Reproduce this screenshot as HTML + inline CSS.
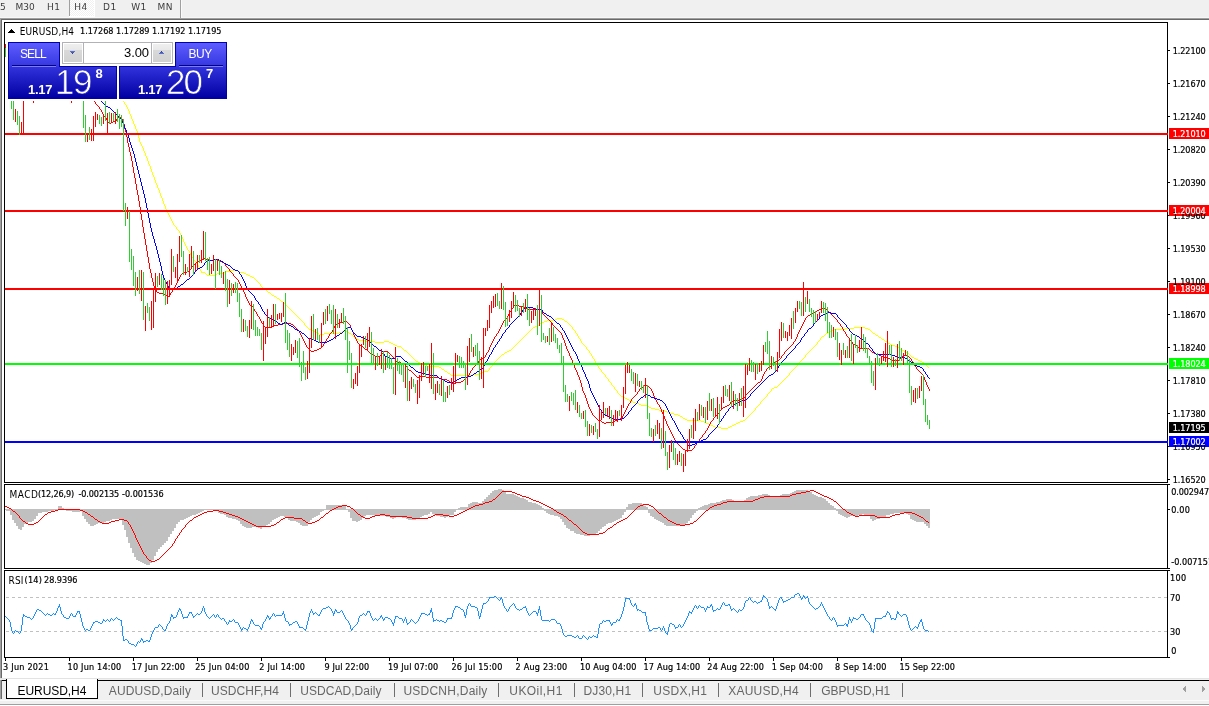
<!DOCTYPE html>
<html lang="en"><head><meta charset="utf-8"><title>EURUSD,H4</title>
<style>
*{box-sizing:border-box}
html,body{margin:0;padding:0}
body{width:1209px;height:706px;overflow:hidden;background:#fff;position:relative;font-family:"Liberation Sans",sans-serif;font-size:10px;color:#000}
.abs{position:absolute}
.d9,.d10,.l12,.l10{position:absolute;white-space:pre}
.d9{-webkit-text-stroke:0.2px currentColor}
.l10{font-family:"DejaVu Sans","Liberation Sans",sans-serif;font-size:9px}
.d9{font-family:"DejaVu Sans","Liberation Sans",sans-serif;font-stretch:condensed;font-size:9px}
.d10{font-family:"DejaVu Sans","Liberation Sans",sans-serif;font-stretch:condensed;font-size:10px}
.l12{font-family:"Liberation Sans",sans-serif;font-size:12px}
.box{position:absolute;left:4px;width:1164px;border:1px solid #000}
.hl{position:absolute;left:5px;width:1163px;height:2px}
.pl{position:absolute;left:1169px;width:40px;height:11px}
.tk{position:absolute;left:1168px;width:2px;height:1px;background:#000}
.xt{position:absolute;top:658px;width:1px;height:3px;background:#000}
.sep{position:absolute;top:683px;width:1px;height:14px;background:#6e6e6e}
.pb{background:linear-gradient(#3232dc,#0000a2);border:1px solid #0000ac}
.sb{background:linear-gradient(#5c5cff,#3636e0);border:1px solid #0000ac;border-bottom:0}
.vb{background:linear-gradient(#efefef 0,#e8e8e8 33%,#d9d9d9 34%,#d1d1d1)}
svg{position:absolute;left:0;top:0}
</style></head>
<body>
<div class="abs" style="left:0;top:0;width:1209px;height:18px;background:#f0f0f0"></div>
<div class="abs" style="left:0;top:17px;width:1209px;height:1px;background:#f7f7f7"></div>
<div class="abs" style="left:0;top:18px;width:1209px;height:1px;background:#a0a0a0"></div>
<div class="abs" style="left:0;top:19px;width:1209px;height:1px;background:#696969"></div>
<div class="abs" style="left:0;top:18px;width:1px;height:662px;background:#a0a0a0"></div>
<div class="abs" style="left:1px;top:19px;width:1px;height:661px;background:#696969"></div>
<div class="abs" style="left:70px;top:0;width:24px;height:16px;background:#f0f0f0 repeating-conic-gradient(#fff 0 25%,#f0f0f0 0 50%) 0 0/2px 2px"></div>
<div class="abs" style="left:94px;top:0;width:1px;height:17px;background:#fff"></div>
<div class="abs" style="left:69px;top:16px;width:26px;height:1px;background:#fff"></div>
<div class="abs" style="left:69px;top:0;width:1px;height:16px;background:#a0a0a0"></div>
<div class="abs" style="left:180px;top:0;width:1px;height:18px;background:#a0a0a0"></div>
<div class="abs" style="left:181px;top:0;width:1px;height:18px;background:#fafafa"></div>
<div class="l10" style="left:-13.4px;top:2px;color:#3c3c3c">M15</div>
<div class="box" style="top:22px;height:461px"></div>
<div class="box" style="top:484px;height:85px"></div>
<div class="box" style="top:570px;height:88px"></div>
<div class="tk" style="top:484px"></div><div class="tk" style="top:568px"></div><div class="tk" style="top:570px"></div><div class="tk" style="top:657px"></div>
<svg width="1209" height="706" viewBox="0 0 1209 706" shape-rendering="crispEdges">
<path d="M124.5,102v2M126.5,105v2M127.5,107v2M128.5,109v2M129.5,111v3M130.5,114v2M131.5,116v3M132.5,119v2M133.5,121v3M134.5,124v2M135.5,126v3M136.5,129v2M137.5,131v3M138.5,134v4M139.5,138v4M140.5,142v2M141.5,144v2M142.5,146v2M143.5,148v3M144.5,151v2M145.5,153v3M146.5,156v2M147.5,158v3M148.5,161v3M149.5,164v2M150.5,166v3M151.5,169v3M152.5,172v3M153.5,175v2M154.5,177v3M155.5,180v3M156.5,183v2M157.5,185v3M158.5,188v2M159.5,190v3M160.5,193v3M161.5,196v2M162.5,198v3M163.5,201v3M164.5,204v2M165.5,206v3M166.5,209v2M167.5,211v2M168.5,213v2M169.5,215v2M170.5,217v2M171.5,219v2M172.5,221v2M173.5,223v2M176.5,227v2M179.5,231v2M180.5,233v2M181.5,235v2M182.5,237v2M183.5,239v3M184.5,242v2M185.5,244v2M186.5,246v2M187.5,248v2M189.5,251v2M190.5,253v2M191.5,255v2M193.5,258v2M196.5,262v2M198.5,265v2M199.5,267v2M200.5,269v2M201.5,271v2M260.5,284v2M304.5,323v2M489.5,368v2M492.5,364v2M572.5,327v2M575.5,331v2M577.5,334v2M578.5,336v2M580.5,339v2M581.5,341v2M586.5,347v2M589.5,351v2M591.5,354v2M592.5,356v2M594.5,359v2M595.5,361v2M597.5,364v2M598.5,366v2M601.5,370v2M605.5,375v2M608.5,379v2M611.5,383v2M614.5,387v2M617.5,391v2M755.5,408v2M760.5,402v2M767.5,394v2M771.5,389v2M789.5,373v2M799.5,362v2M805.5,355v2M817.5,342v2M820.5,338v2M123,101.5h1M125,104.5h1M174,225.5h1M175,226.5h1M177,229.5h1M178,230.5h1M188,250.5h1M192,257.5h1M194,260.5h1M195,261.5h1M197,264.5h1M230,270.5h8M226,271.5h4M238,271.5h2M202,272.5h3M223,272.5h3M240,272.5h4M205,273.5h1M217,273.5h6M244,273.5h2M206,274.5h1M215,274.5h2M246,274.5h2M207,275.5h8M248,275.5h2M250,276.5h2M252,277.5h2M254,278.5h1M255,279.5h1M256,280.5h1M257,281.5h1M258,282.5h1M259,283.5h1M261,286.5h1M262,287.5h1M263,288.5h1M264,289.5h2M266,290.5h1M267,291.5h1M268,292.5h2M270,293.5h1M271,294.5h1M272,295.5h2M274,296.5h2M276,297.5h1M277,298.5h2M279,299.5h1M280,300.5h1M281,301.5h2M283,302.5h1M284,303.5h1M285,304.5h1M286,305.5h1M287,306.5h1M288,307.5h1M289,308.5h1M290,309.5h1M291,310.5h1M292,311.5h1M293,312.5h1M294,313.5h1M295,314.5h1M296,315.5h1M297,316.5h1M298,317.5h1M299,318.5h1M557,318.5h5M300,319.5h1M555,319.5h2M562,319.5h2M301,320.5h1M547,320.5h8M564,320.5h1M302,321.5h1M544,321.5h3M565,321.5h2M303,322.5h1M542,322.5h2M567,322.5h1M540,323.5h2M568,323.5h1M539,324.5h1M569,324.5h1M305,325.5h1M537,325.5h2M570,325.5h1M306,326.5h1M535,326.5h2M571,326.5h1M307,327.5h1M533,327.5h2M854,327.5h11M308,328.5h1M532,328.5h1M845,328.5h9M865,328.5h3M309,329.5h2M531,329.5h1M573,329.5h1M834,329.5h11M868,329.5h2M311,330.5h2M530,330.5h1M574,330.5h1M832,330.5h2M870,330.5h1M313,331.5h2M342,331.5h5M529,331.5h1M830,331.5h2M871,331.5h1M315,332.5h2M339,332.5h3M347,332.5h2M528,332.5h1M828,332.5h2M872,332.5h1M317,333.5h2M324,333.5h15M349,333.5h2M527,333.5h1M576,333.5h1M826,333.5h2M873,333.5h2M319,334.5h5M351,334.5h1M526,334.5h1M825,334.5h1M875,334.5h1M352,335.5h1M525,335.5h1M824,335.5h1M876,335.5h2M353,336.5h1M524,336.5h1M822,336.5h2M878,336.5h1M354,337.5h2M523,337.5h1M821,337.5h1M879,337.5h2M356,338.5h1M522,338.5h1M579,338.5h1M881,338.5h1M357,339.5h2M521,339.5h1M882,339.5h2M359,340.5h6M520,340.5h1M819,340.5h1M884,340.5h1M365,341.5h10M384,341.5h5M519,341.5h1M818,341.5h1M885,341.5h2M375,342.5h9M389,342.5h2M518,342.5h1M887,342.5h1M391,343.5h2M517,343.5h1M582,343.5h1M888,343.5h2M393,344.5h2M516,344.5h1M583,344.5h1M816,344.5h1M890,344.5h2M395,345.5h2M515,345.5h1M584,345.5h1M815,345.5h1M892,345.5h3M397,346.5h4M514,346.5h1M585,346.5h1M814,346.5h1M895,346.5h2M401,347.5h1M513,347.5h1M813,347.5h1M897,347.5h2M402,348.5h1M512,348.5h1M812,348.5h1M899,348.5h1M403,349.5h1M511,349.5h1M587,349.5h1M811,349.5h1M900,349.5h2M404,350.5h2M509,350.5h2M588,350.5h1M810,350.5h1M902,350.5h2M406,351.5h1M507,351.5h2M809,351.5h1M904,351.5h2M407,352.5h1M505,352.5h2M808,352.5h1M906,352.5h2M408,353.5h1M504,353.5h1M590,353.5h1M807,353.5h1M908,353.5h1M409,354.5h1M502,354.5h2M806,354.5h1M909,354.5h1M410,355.5h1M501,355.5h1M910,355.5h1M411,356.5h1M500,356.5h1M911,356.5h1M412,357.5h1M499,357.5h1M804,357.5h1M912,357.5h2M413,358.5h1M498,358.5h1M593,358.5h1M803,358.5h1M914,358.5h2M414,359.5h1M497,359.5h1M802,359.5h1M916,359.5h2M415,360.5h1M496,360.5h1M801,360.5h1M918,360.5h2M416,361.5h2M495,361.5h1M800,361.5h1M920,361.5h2M418,362.5h2M494,362.5h1M922,362.5h2M420,363.5h3M493,363.5h1M596,363.5h1M924,363.5h1M423,364.5h2M798,364.5h1M925,364.5h1M425,365.5h2M797,365.5h1M926,365.5h1M427,366.5h12M491,366.5h1M796,366.5h1M927,366.5h1M439,367.5h2M490,367.5h1M795,367.5h1M928,367.5h1M441,368.5h1M599,368.5h1M794,368.5h1M442,369.5h2M600,369.5h1M793,369.5h1M444,370.5h1M488,370.5h1M792,370.5h1M445,371.5h2M484,371.5h4M791,371.5h1M447,372.5h1M482,372.5h2M602,372.5h1M790,372.5h1M448,373.5h2M480,373.5h2M603,373.5h1M450,374.5h1M472,374.5h8M604,374.5h1M451,375.5h21M788,375.5h1M787,376.5h1M606,377.5h1M786,377.5h1M607,378.5h1M785,378.5h1M784,379.5h1M783,380.5h1M609,381.5h1M782,381.5h1M610,382.5h1M781,382.5h1M780,383.5h1M779,384.5h1M612,385.5h1M778,385.5h1M613,386.5h1M777,386.5h1M774,387.5h3M772,388.5h2M615,389.5h1M616,390.5h1M770,391.5h1M769,392.5h1M618,393.5h1M768,393.5h1M619,394.5h1M620,395.5h1M621,396.5h2M766,396.5h1M623,397.5h2M765,397.5h1M625,398.5h2M764,398.5h1M627,399.5h2M763,399.5h1M629,400.5h2M762,400.5h1M631,401.5h2M761,401.5h1M633,402.5h3M636,403.5h3M639,404.5h2M759,404.5h1M641,405.5h6M758,405.5h1M647,406.5h2M757,406.5h1M649,407.5h2M756,407.5h1M651,408.5h4M655,409.5h4M659,410.5h6M754,410.5h1M665,411.5h2M753,411.5h1M667,412.5h3M752,412.5h1M670,413.5h4M751,413.5h1M674,414.5h4M750,414.5h1M678,415.5h2M749,415.5h1M680,416.5h2M748,416.5h1M682,417.5h1M747,417.5h1M683,418.5h2M746,418.5h1M685,419.5h2M745,419.5h1M687,420.5h14M743,420.5h2M701,421.5h3M740,421.5h3M704,422.5h2M738,422.5h2M706,423.5h3M736,423.5h2M709,424.5h2M734,424.5h2M711,425.5h2M732,425.5h2M713,426.5h2M730,426.5h2M715,427.5h6M728,427.5h2M721,428.5h7" fill="none" stroke="#ffff00" stroke-width="1"/>
<path d="M95.5,102v2M99.5,107v2M101.5,110v2M102.5,112v2M103.5,114v2M105.5,116v2M106.5,118v2M107.5,120v2M116.5,119v2M117.5,117v2M122.5,119v2M123.5,121v3M124.5,124v5M125.5,129v3M126.5,132v5M127.5,137v6M128.5,143v4M129.5,147v5M130.5,152v4M131.5,156v5M132.5,161v6M133.5,167v6M134.5,173v5M135.5,178v6M136.5,184v6M137.5,190v5M138.5,195v6M139.5,201v6M140.5,207v7M141.5,214v6M142.5,220v7M143.5,227v6M144.5,233v6M145.5,239v6M146.5,245v6M147.5,251v6M148.5,257v6M149.5,263v6M150.5,269v4M151.5,273v5M152.5,278v4M153.5,282v4M154.5,286v3M156.5,290v2M170.5,293v2M172.5,290v2M173.5,288v2M175.5,285v2M176.5,283v2M177.5,281v2M178.5,279v2M179.5,277v2M180.5,275v2M191.5,267v2M225.5,264v2M229.5,269v2M233.5,274v2M238.5,280v2M239.5,282v2M240.5,284v2M241.5,286v2M242.5,288v2M243.5,290v2M244.5,292v2M245.5,294v3M246.5,297v2M247.5,299v2M248.5,301v2M249.5,303v2M253.5,307v2M254.5,309v2M256.5,312v2M257.5,314v2M259.5,317v2M260.5,319v2M261.5,321v2M263.5,324v2M299.5,331v2M300.5,333v2M301.5,335v2M302.5,337v2M303.5,339v2M304.5,341v2M305.5,343v2M306.5,345v2M323.5,344v2M325.5,341v2M326.5,339v2M328.5,336v2M329.5,334v2M332.5,330v2M333.5,328v2M334.5,326v2M335.5,324v2M350.5,325v3M351.5,328v2M352.5,330v2M353.5,332v3M354.5,335v2M355.5,337v2M356.5,339v2M357.5,341v2M395.5,359v2M407.5,367v2M469.5,373v2M470.5,371v2M472.5,368v2M478.5,361v2M485.5,355v2M486.5,353v2M488.5,350v2M489.5,347v3M490.5,345v2M491.5,343v2M492.5,341v2M493.5,339v2M494.5,337v2M496.5,334v2M498.5,331v2M499.5,329v2M500.5,327v2M501.5,325v2M502.5,323v2M503.5,321v2M507.5,316v2M508.5,314v2M509.5,312v2M511.5,309v2M513.5,306v2M541.5,310v2M542.5,312v2M552.5,323v2M561.5,333v2M562.5,335v3M563.5,338v2M564.5,340v3M565.5,343v3M566.5,346v3M567.5,349v2M568.5,351v2M569.5,353v3M570.5,356v2M571.5,358v2M572.5,360v3M573.5,363v2M574.5,365v3M575.5,368v2M576.5,370v2M577.5,372v3M578.5,375v2M579.5,377v3M580.5,380v3M581.5,383v4M582.5,387v4M583.5,391v2M584.5,393v2M585.5,395v3M586.5,398v3M587.5,401v3M588.5,404v3M589.5,407v2M590.5,409v2M591.5,411v2M592.5,413v2M622.5,416v2M623.5,414v2M624.5,412v2M625.5,410v2M626.5,408v2M627.5,406v2M628.5,404v2M630.5,401v2M631.5,399v2M637.5,392v2M639.5,389v2M651.5,389v2M652.5,391v2M653.5,393v3M654.5,396v2M655.5,398v2M656.5,400v2M657.5,402v2M659.5,405v2M660.5,407v2M661.5,409v3M662.5,412v2M663.5,414v2M664.5,416v3M665.5,419v2M666.5,421v3M667.5,424v2M668.5,426v2M669.5,428v2M670.5,430v2M671.5,432v2M672.5,434v2M673.5,436v2M674.5,438v2M675.5,440v2M694.5,446v2M696.5,443v2M699.5,439v2M702.5,435v2M705.5,431v2M707.5,428v2M708.5,426v2M709.5,424v2M710.5,422v2M713.5,418v2M719.5,411v2M730.5,402v2M745.5,395v2M761.5,379v2M762.5,376v3M763.5,374v2M764.5,372v2M766.5,369v2M781.5,356v2M784.5,352v2M793.5,342v2M795.5,339v2M796.5,337v2M797.5,334v3M798.5,332v2M799.5,330v2M800.5,328v2M801.5,326v2M802.5,324v2M803.5,322v2M804.5,320v2M805.5,318v2M837.5,320v2M840.5,324v2M842.5,327v2M843.5,329v2M845.5,332v2M846.5,334v2M849.5,338v2M852.5,342v2M900.5,357v2M911.5,359v2M913.5,362v2M914.5,364v2M916.5,367v2M923.5,375v2M924.5,377v3M925.5,380v2M926.5,382v3M927.5,385v2M928.5,387v2M929.5,389v2M93,100.5h1M94,101.5h1M96,104.5h1M97,105.5h1M98,106.5h1M100,109.5h1M104,116.5h1M118,117.5h3M121,118.5h1M115,120.5h1M113,121.5h2M108,122.5h1M111,122.5h2M109,123.5h2M203,258.5h3M201,259.5h2M206,259.5h4M214,259.5h4M199,260.5h2M210,260.5h4M218,260.5h2M197,261.5h2M220,261.5h2M196,262.5h1M222,262.5h2M195,263.5h1M224,263.5h1M194,264.5h1M193,265.5h1M192,266.5h1M226,266.5h1M227,267.5h1M228,268.5h1M190,269.5h1M189,270.5h1M187,271.5h2M230,271.5h1M184,272.5h3M231,272.5h1M182,273.5h2M232,273.5h1M181,274.5h1M234,276.5h1M235,277.5h1M236,278.5h1M237,279.5h1M174,287.5h1M155,289.5h1M157,292.5h2M171,292.5h1M159,293.5h5M164,294.5h2M166,295.5h1M169,295.5h1M167,296.5h2M250,305.5h2M514,305.5h5M252,306.5h1M519,306.5h5M524,307.5h2M512,308.5h1M526,308.5h2M822,308.5h3M528,309.5h13M819,309.5h3M825,309.5h2M817,310.5h2M827,310.5h1M255,311.5h1M510,311.5h1M815,311.5h2M828,311.5h1M814,312.5h1M829,312.5h1M812,313.5h2M830,313.5h1M543,314.5h1M810,314.5h2M831,314.5h1M544,315.5h1M808,315.5h2M832,315.5h1M258,316.5h1M545,316.5h1M807,316.5h1M833,316.5h1M546,317.5h1M806,317.5h1M834,317.5h1M506,318.5h1M547,318.5h1M835,318.5h1M505,319.5h1M548,319.5h1M836,319.5h1M504,320.5h1M549,320.5h1M344,321.5h3M550,321.5h1M340,322.5h4M347,322.5h1M551,322.5h1M838,322.5h1M262,323.5h1M283,323.5h8M337,323.5h3M348,323.5h1M839,323.5h1M278,324.5h5M291,324.5h2M336,324.5h1M349,324.5h1M274,325.5h4M293,325.5h1M553,325.5h1M264,326.5h1M272,326.5h2M294,326.5h1M554,326.5h1M841,326.5h1M265,327.5h7M295,327.5h1M555,327.5h1M296,328.5h1M556,328.5h1M297,329.5h1M557,329.5h1M298,330.5h1M558,330.5h1M559,331.5h1M844,331.5h1M331,332.5h1M560,332.5h1M330,333.5h1M497,333.5h1M495,336.5h1M847,336.5h1M848,337.5h1M327,338.5h1M850,340.5h1M794,341.5h1M851,341.5h1M324,343.5h1M358,343.5h1M359,344.5h1M792,344.5h1M853,344.5h2M360,345.5h1M791,345.5h1M855,345.5h2M322,346.5h1M361,346.5h2M790,346.5h1M857,346.5h1M307,347.5h1M321,347.5h1M363,347.5h1M789,347.5h1M858,347.5h1M308,348.5h1M319,348.5h2M364,348.5h1M788,348.5h1M859,348.5h10M309,349.5h1M317,349.5h2M365,349.5h2M787,349.5h1M869,349.5h1M310,350.5h1M314,350.5h3M367,350.5h1M786,350.5h1M870,350.5h1M311,351.5h3M368,351.5h1M384,351.5h4M785,351.5h1M871,351.5h1M369,352.5h1M383,352.5h1M388,352.5h1M487,352.5h1M872,352.5h2M370,353.5h1M382,353.5h1M389,353.5h1M874,353.5h2M371,354.5h2M381,354.5h1M390,354.5h1M783,354.5h1M876,354.5h3M373,355.5h2M380,355.5h1M391,355.5h1M782,355.5h1M879,355.5h2M903,355.5h5M375,356.5h5M392,356.5h1M881,356.5h2M901,356.5h2M908,356.5h1M393,357.5h1M483,357.5h2M883,357.5h5M909,357.5h1M394,358.5h1M481,358.5h2M780,358.5h1M888,358.5h2M910,358.5h1M480,359.5h1M779,359.5h1M890,359.5h2M899,359.5h1M479,360.5h1M777,360.5h2M892,360.5h7M396,361.5h2M776,361.5h1M912,361.5h1M398,362.5h3M774,362.5h2M401,363.5h2M477,363.5h1M773,363.5h1M403,364.5h2M476,364.5h1M772,364.5h1M405,365.5h1M475,365.5h1M771,365.5h1M406,366.5h1M474,366.5h1M770,366.5h1M915,366.5h1M473,367.5h1M768,367.5h2M767,368.5h1M408,369.5h1M917,369.5h1M409,370.5h2M471,370.5h1M918,370.5h1M411,371.5h1M765,371.5h1M919,371.5h1M412,372.5h1M920,372.5h1M413,373.5h1M921,373.5h1M414,374.5h1M922,374.5h1M415,375.5h1M468,375.5h1M416,376.5h1M420,376.5h6M467,376.5h1M417,377.5h3M426,377.5h13M466,377.5h1M439,378.5h2M465,378.5h1M441,379.5h6M464,379.5h1M447,380.5h2M463,380.5h1M449,381.5h1M461,381.5h2M760,381.5h1M450,382.5h2M456,382.5h5M758,382.5h2M452,383.5h4M757,383.5h1M756,384.5h1M644,385.5h3M755,385.5h1M643,386.5h1M647,386.5h2M754,386.5h1M641,387.5h2M649,387.5h1M753,387.5h1M640,388.5h1M650,388.5h1M752,388.5h1M751,389.5h1M750,390.5h1M638,391.5h1M749,391.5h1M748,392.5h1M747,393.5h1M636,394.5h1M746,394.5h1M635,395.5h1M634,396.5h1M633,397.5h1M744,397.5h1M632,398.5h1M742,398.5h2M740,399.5h2M733,400.5h7M731,401.5h2M629,403.5h1M658,404.5h1M729,404.5h1M727,405.5h2M725,406.5h2M723,407.5h2M722,408.5h1M721,409.5h1M720,410.5h1M718,413.5h1M717,414.5h1M593,415.5h1M716,415.5h1M594,416.5h1M715,416.5h1M595,417.5h1M714,417.5h1M596,418.5h1M620,418.5h2M597,419.5h1M618,419.5h2M598,420.5h3M615,420.5h3M712,420.5h1M601,421.5h1M613,421.5h2M711,421.5h1M602,422.5h2M606,422.5h7M604,423.5h2M706,430.5h1M704,433.5h1M703,434.5h1M701,437.5h1M700,438.5h1M698,441.5h1M676,442.5h1M697,442.5h1M677,443.5h1M678,444.5h1M679,445.5h1M695,445.5h1M680,446.5h1M681,447.5h1M682,448.5h1M693,448.5h1M683,449.5h2M692,449.5h1M685,450.5h7" fill="none" stroke="#ff0000" stroke-width="1"/>
<path d="M121.5,119v2M122.5,121v2M123.5,123v2M124.5,125v3M125.5,128v2M126.5,130v3M127.5,133v2M128.5,135v3M129.5,138v4M130.5,142v3M131.5,145v3M132.5,148v3M133.5,151v3M134.5,154v4M135.5,158v4M136.5,162v4M137.5,166v4M138.5,170v4M139.5,174v4M140.5,178v4M141.5,182v4M142.5,186v4M143.5,190v4M144.5,194v4M145.5,198v5M146.5,203v5M147.5,208v5M148.5,213v5M149.5,218v5M150.5,223v5M151.5,228v4M152.5,232v4M153.5,236v3M154.5,239v4M155.5,243v3M156.5,246v4M157.5,250v4M158.5,254v4M159.5,258v4M160.5,262v4M161.5,266v5M162.5,271v4M163.5,275v3M164.5,278v2M165.5,280v2M166.5,282v2M167.5,284v2M168.5,286v2M194.5,272v2M204.5,263v2M239.5,272v2M241.5,275v2M242.5,277v2M243.5,279v2M244.5,281v2M245.5,283v3M246.5,286v2M247.5,288v2M254.5,296v2M255.5,298v2M258.5,302v2M260.5,305v2M261.5,307v2M262.5,309v2M264.5,312v2M351.5,328v2M352.5,330v2M383.5,352v2M384.5,354v2M409.5,364v2M483.5,366v2M484.5,364v2M485.5,362v2M487.5,359v2M488.5,357v2M489.5,355v2M491.5,352v2M492.5,350v2M493.5,348v2M495.5,345v2M497.5,342v2M499.5,339v2M501.5,336v2M502.5,334v2M505.5,330v2M509.5,325v2M520.5,313v2M522.5,310v2M542.5,310v2M560.5,325v2M562.5,328v2M564.5,331v2M565.5,333v2M566.5,335v2M567.5,337v2M568.5,339v2M569.5,341v2M570.5,343v2M571.5,345v2M572.5,347v2M573.5,349v2M575.5,352v2M576.5,354v2M577.5,356v3M578.5,359v2M579.5,361v2M580.5,363v2M581.5,365v2M582.5,367v3M583.5,370v2M584.5,372v2M585.5,374v3M586.5,377v2M587.5,379v2M588.5,381v3M589.5,384v4M590.5,388v3M591.5,391v2M592.5,393v2M593.5,395v2M594.5,397v2M595.5,399v2M596.5,401v2M597.5,403v2M598.5,405v2M599.5,407v2M601.5,410v2M628.5,412v2M631.5,408v2M637.5,401v2M665.5,404v2M666.5,406v2M667.5,408v2M668.5,410v2M669.5,412v2M670.5,414v2M671.5,416v2M672.5,418v2M674.5,421v2M675.5,423v2M676.5,425v2M677.5,427v2M678.5,429v2M680.5,432v2M682.5,435v2M683.5,437v2M685.5,440v2M687.5,443v2M708.5,435v2M717.5,425v2M719.5,422v2M721.5,419v2M723.5,416v2M725.5,413v2M728.5,409v2M750.5,394v2M777.5,368v2M778.5,366v2M781.5,362v2M786.5,356v2M795.5,346v2M800.5,340v2M801.5,338v2M804.5,334v2M807.5,330v2M813.5,324v2M819.5,317v2M837.5,315v2M846.5,325v2M849.5,329v2M869.5,345v2M872.5,349v2M923.5,369v2M925.5,372v2M927.5,375v2M101,101.5h1M102,102.5h1M103,103.5h1M104,104.5h1M105,105.5h1M106,106.5h2M108,107.5h2M110,108.5h1M111,109.5h1M112,110.5h1M113,111.5h1M114,112.5h1M115,113.5h1M116,114.5h1M117,115.5h1M118,116.5h1M119,117.5h1M120,118.5h1M214,259.5h5M208,260.5h6M219,260.5h2M206,261.5h2M221,261.5h2M205,262.5h1M223,262.5h1M224,263.5h2M226,264.5h2M203,265.5h1M228,265.5h2M202,266.5h1M230,266.5h1M200,267.5h2M231,267.5h1M198,268.5h2M232,268.5h1M197,269.5h1M233,269.5h2M196,270.5h1M235,270.5h3M195,271.5h1M238,271.5h1M193,274.5h1M240,274.5h1M192,275.5h1M191,276.5h1M190,277.5h1M189,278.5h1M187,279.5h2M186,280.5h1M185,281.5h1M184,282.5h1M183,283.5h1M181,284.5h2M180,285.5h1M178,286.5h2M177,287.5h1M169,288.5h2M176,288.5h1M171,289.5h5M248,290.5h1M249,291.5h1M250,292.5h1M251,293.5h1M252,294.5h1M253,295.5h1M256,300.5h1M257,301.5h1M259,304.5h1M525,307.5h8M524,308.5h1M533,308.5h3M523,309.5h1M536,309.5h6M263,311.5h1M521,312.5h1M543,312.5h1M828,312.5h3M544,313.5h2M825,313.5h3M831,313.5h5M265,314.5h1M546,314.5h1M823,314.5h2M836,314.5h1M266,315.5h1M519,315.5h1M547,315.5h2M821,315.5h2M267,316.5h1M518,316.5h1M549,316.5h2M820,316.5h1M268,317.5h1M517,317.5h1M551,317.5h1M838,317.5h1M269,318.5h2M516,318.5h1M552,318.5h1M839,318.5h1M271,319.5h2M515,319.5h1M553,319.5h1M818,319.5h1M840,319.5h1M273,320.5h2M514,320.5h1M554,320.5h1M817,320.5h1M841,320.5h1M275,321.5h2M513,321.5h1M555,321.5h1M816,321.5h1M842,321.5h1M277,322.5h1M284,322.5h3M512,322.5h1M556,322.5h1M815,322.5h1M843,322.5h1M278,323.5h2M282,323.5h2M287,323.5h1M511,323.5h1M557,323.5h2M814,323.5h1M844,323.5h1M280,324.5h2M288,324.5h1M510,324.5h1M559,324.5h1M845,324.5h1M289,325.5h2M291,326.5h2M812,326.5h1M293,327.5h1M347,327.5h4M508,327.5h1M561,327.5h1M811,327.5h1M847,327.5h1M294,328.5h1M346,328.5h1M507,328.5h1M809,328.5h2M848,328.5h1M295,329.5h2M345,329.5h1M506,329.5h1M808,329.5h1M297,330.5h2M344,330.5h1M563,330.5h1M299,331.5h2M343,331.5h1M850,331.5h1M301,332.5h1M342,332.5h1M353,332.5h1M504,332.5h1M806,332.5h1M851,332.5h1M302,333.5h2M340,333.5h2M354,333.5h1M503,333.5h1M805,333.5h1M852,333.5h1M304,334.5h1M339,334.5h1M355,334.5h1M853,334.5h2M305,335.5h1M337,335.5h2M356,335.5h1M855,335.5h2M306,336.5h1M336,336.5h1M357,336.5h4M803,336.5h1M857,336.5h2M307,337.5h1M334,337.5h2M361,337.5h3M802,337.5h1M859,337.5h1M308,338.5h3M333,338.5h1M364,338.5h2M500,338.5h1M860,338.5h2M311,339.5h3M331,339.5h2M366,339.5h2M862,339.5h1M314,340.5h2M329,340.5h2M368,340.5h1M863,340.5h1M316,341.5h2M327,341.5h2M369,341.5h1M498,341.5h1M864,341.5h1M318,342.5h9M370,342.5h1M799,342.5h1M865,342.5h1M371,343.5h1M798,343.5h1M866,343.5h2M372,344.5h1M496,344.5h1M797,344.5h1M868,344.5h1M373,345.5h1M796,345.5h1M374,346.5h2M376,347.5h1M494,347.5h1M870,347.5h1M377,348.5h1M794,348.5h1M871,348.5h1M378,349.5h1M793,349.5h1M379,350.5h2M792,350.5h1M381,351.5h2M574,351.5h1M791,351.5h1M873,351.5h1M790,352.5h1M874,352.5h1M789,353.5h1M875,353.5h1M490,354.5h1M788,354.5h1M876,354.5h16M787,355.5h1M892,355.5h3M385,356.5h3M396,356.5h5M895,356.5h3M388,357.5h2M395,357.5h1M401,357.5h1M898,357.5h7M390,358.5h5M402,358.5h1M785,358.5h1M905,358.5h2M403,359.5h1M784,359.5h1M907,359.5h1M404,360.5h1M783,360.5h1M908,360.5h2M405,361.5h2M486,361.5h1M782,361.5h1M910,361.5h1M407,362.5h1M911,362.5h2M408,363.5h1M913,363.5h1M780,364.5h1M914,364.5h1M779,365.5h1M915,365.5h2M410,366.5h1M917,366.5h3M411,367.5h2M920,367.5h2M413,368.5h1M482,368.5h1M922,368.5h1M414,369.5h1M480,369.5h2M415,370.5h1M479,370.5h1M776,370.5h1M416,371.5h2M477,371.5h2M775,371.5h1M924,371.5h1M418,372.5h3M476,372.5h1M774,372.5h1M421,373.5h5M474,373.5h2M773,373.5h1M426,374.5h3M473,374.5h1M771,374.5h2M926,374.5h1M429,375.5h8M471,375.5h2M769,375.5h2M437,376.5h1M468,376.5h3M768,376.5h1M438,377.5h1M461,377.5h7M767,377.5h1M928,377.5h1M439,378.5h2M459,378.5h2M766,378.5h1M929,378.5h1M441,379.5h2M457,379.5h2M765,379.5h1M443,380.5h2M455,380.5h2M764,380.5h1M445,381.5h2M453,381.5h2M763,381.5h1M447,382.5h6M762,382.5h1M761,383.5h1M760,384.5h1M759,385.5h1M758,386.5h1M757,387.5h1M756,388.5h1M755,389.5h1M754,390.5h1M753,391.5h1M752,392.5h1M751,393.5h1M646,394.5h2M644,395.5h2M648,395.5h2M643,396.5h1M650,396.5h1M749,396.5h1M641,397.5h2M651,397.5h3M748,397.5h1M640,398.5h1M654,398.5h3M747,398.5h1M639,399.5h1M657,399.5h3M745,399.5h2M638,400.5h1M660,400.5h2M742,400.5h3M662,401.5h1M740,401.5h2M663,402.5h1M738,402.5h2M636,403.5h1M664,403.5h1M736,403.5h2M635,404.5h1M734,404.5h2M634,405.5h1M733,405.5h1M633,406.5h1M731,406.5h2M632,407.5h1M730,407.5h1M729,408.5h1M600,409.5h1M630,410.5h1M629,411.5h1M727,411.5h1M602,412.5h1M726,412.5h1M603,413.5h1M604,414.5h1M627,414.5h1M605,415.5h2M626,415.5h1M724,415.5h1M607,416.5h3M625,416.5h1M610,417.5h2M624,417.5h1M612,418.5h2M622,418.5h2M722,418.5h1M614,419.5h8M673,420.5h1M720,421.5h1M718,424.5h1M716,427.5h1M715,428.5h1M714,429.5h1M713,430.5h1M679,431.5h1M712,431.5h1M711,432.5h1M710,433.5h1M681,434.5h1M709,434.5h1M707,437.5h1M706,438.5h1M684,439.5h1M703,439.5h3M701,440.5h2M699,441.5h2M686,442.5h1M697,442.5h2M695,443.5h2M692,444.5h3M688,445.5h4" fill="none" stroke="#0000ff" stroke-width="1"/>
</svg>
<div class="hl" style="top:133px;background:#ff0000"></div><div class="hl" style="top:210px;background:#ff0000"></div><div class="hl" style="top:288px;background:#ff0000"></div><div class="hl" style="top:363px;background:#00ff00"></div><div class="hl" style="top:441px;background:#0000ff"></div>
<svg width="1209" height="706" viewBox="0 0 1209 706" shape-rendering="crispEdges">
<path d="M5.5,48V57M11.5,96V109M13.5,96V120M17.5,111V125M19.5,116V135M83.5,96V128M85.5,115V142M89.5,127V140M99.5,115V124M101.5,117V126M105.5,96V121M109.5,112V124M113.5,113V121M117.5,109V122M119.5,114V129M121.5,115V127M123.5,119V211M125.5,203V226M129.5,211V262M131.5,249V270M133.5,256V286M135.5,272V296M139.5,270V294M143.5,272V320M147.5,303V313M149.5,307V321M157.5,276V287M161.5,274V290M163.5,278V296M165.5,280V305M173.5,256V272M181.5,235V257M183.5,251V275M187.5,267V272M193.5,251V275M199.5,255V263M205.5,232V261M207.5,258V270M209.5,257V275M215.5,259V289M219.5,260V275M221.5,266V278M225.5,271V291M227.5,279V307M231.5,283V296M235.5,282V293M237.5,283V302M239.5,293V317M241.5,309V332M245.5,320V331M247.5,326V337M253.5,304V330M255.5,320V336M257.5,327V336M259.5,329V336M261.5,333V350M269.5,317V327M275.5,304V324M285.5,293V343M287.5,330V350M289.5,333V357M297.5,341V358M299.5,338V367M301.5,362V381M303.5,351V373M305.5,367V380M313.5,314V340M317.5,328V340M319.5,335V343M325.5,309V324M329.5,304V314M331.5,310V324M333.5,305V334M337.5,314V328M343.5,308V324M345.5,316V340M347.5,327V373M349.5,341V360M351.5,353V388M365.5,336V348M371.5,332V363M373.5,348V364M377.5,353V366M383.5,351V373M387.5,352V368M389.5,355V369M391.5,358V369M393.5,367V394M397.5,358V371M399.5,361V374M401.5,365V375M403.5,365V382M407.5,366V401M413.5,379V387M415.5,384V393M425.5,366V377M427.5,366V371M433.5,353V394M439.5,384V395M443.5,380V402M445.5,392V402M449.5,385V395M459.5,356V368M461.5,357V368M463.5,361V368M465.5,365V390M471.5,334V352M475.5,345V356M477.5,343V365M479.5,351V380M497.5,293V306M499.5,301V309M503.5,286V310M505.5,302V327M507.5,317V326M515.5,295V312M517.5,300V311M519.5,308V317M523.5,303V313M527.5,294V320M529.5,308V326M537.5,305V335M541.5,295V342M543.5,333V340M545.5,336V343M549.5,328V345M553.5,327V341M555.5,334V343M557.5,338V349M559.5,345V353M561.5,343V365M563.5,356V392M565.5,385V402M567.5,394V402M571.5,392V401M573.5,393V405M575.5,390V410M579.5,405V417M581.5,413V419M585.5,410V427M587.5,421V436M591.5,425V433M595.5,423V432M597.5,429V439M605.5,408V415M611.5,410V426M619.5,410V416M631.5,369V381M633.5,372V384M637.5,374V386M641.5,381V390M643.5,385V393M647.5,385V419M649.5,413V436M651.5,428V437M655.5,425V436M661.5,428V449M665.5,431V456M667.5,452V470M673.5,442V460M675.5,448V465M681.5,453V466M691.5,425V438M697.5,412V421M701.5,405V416M705.5,407V423M709.5,393V411M713.5,398V417M719.5,404V424M725.5,385V396M727.5,389V397M731.5,382V407M735.5,394V406M737.5,398V411M741.5,388V406M751.5,360V372M753.5,362V372M757.5,363V374M765.5,342V352M767.5,331V354M769.5,341V370M773.5,357V366M775.5,361V371M783.5,323V338M793.5,311V329M799.5,301V309M801.5,302V316M805.5,297V312M809.5,299V312M811.5,308V317M813.5,310V324M815.5,311V323M823.5,302V313M825.5,303V321M827.5,307V333M829.5,322V338M831.5,325V338M835.5,329V340M837.5,332V357M843.5,343V355M847.5,346V358M851.5,334V361M855.5,335V348M857.5,345V353M863.5,334V351M865.5,337V353M867.5,348V358M869.5,356V365M871.5,361V383M873.5,371V386M877.5,353V365M879.5,358V366M889.5,345V355M891.5,345V367M895.5,359V366M899.5,341V361M901.5,348V361M907.5,351V365M909.5,359V393M911.5,386V405M917.5,388V399M923.5,375V405M925.5,399V422M927.5,415V425M929.5,420V429" fill="none" stroke="#32cd32" stroke-width="1"/>
<path d="M5.5,44V48M15.5,109V122M21.5,122V135M23.5,96V135M33.5,101V103M71.5,101V103M87.5,133V142M91.5,129V141M93.5,116V141M95.5,112V127M97.5,114V120M103.5,114V124M107.5,113V135M111.5,113V122M115.5,112V124M127.5,207V219M137.5,277V291M141.5,270V301M145.5,306V331M151.5,301V330M153.5,289V328M155.5,273V302M159.5,273V285M167.5,281V304M169.5,280V297M171.5,249V285M175.5,267V278M177.5,254V283M179.5,236V262M185.5,264V275M189.5,254V277M191.5,246V267M195.5,263V271M197.5,255V269M201.5,250V263M203.5,231V260M211.5,264V274M213.5,255V271M217.5,259V271M223.5,272V284M229.5,280V304M233.5,284V293M243.5,319V332M249.5,320V338M251.5,301V329M263.5,321V361M265.5,327V344M267.5,309V337M271.5,315V327M273.5,304V327M277.5,314V320M279.5,313V319M281.5,313V322M283.5,302V317M291.5,344V361M293.5,347V355M295.5,340V353M307.5,361V379M309.5,338V373M311.5,316V348M315.5,329V340M321.5,323V348M323.5,312V325M327.5,306V321M335.5,309V339M339.5,319V328M341.5,313V323M353.5,379V389M355.5,373V384M357.5,366V386M359.5,345V373M361.5,344V357M363.5,336V345M367.5,333V350M369.5,327V347M375.5,356V370M379.5,356V365M381.5,349V369M385.5,357V370M395.5,347V395M405.5,364V388M409.5,381V401M411.5,377V389M417.5,380V404M419.5,375V398M421.5,363V381M423.5,362V375M429.5,364V383M431.5,343V389M435.5,384V400M437.5,381V393M441.5,376V396M447.5,386V398M451.5,378V390M453.5,366V392M455.5,353V384M457.5,355V362M467.5,346V385M469.5,338V362M473.5,347V357M481.5,357V379M483.5,328V388M485.5,328V336M487.5,320V331M489.5,305V328M491.5,301V313M493.5,296V308M495.5,294V307M501.5,283V309M509.5,310V322M511.5,301V318M513.5,292V307M521.5,306V316M525.5,299V312M531.5,311V323M533.5,310V320M535.5,308V316M539.5,289V326M547.5,336V342M551.5,322V342M569.5,396V411M577.5,402V413M583.5,411V419M589.5,424V436M593.5,426V435M599.5,405V437M601.5,411V420M603.5,402V418M607.5,408V417M609.5,406V419M613.5,415V426M615.5,410V420M617.5,411V422M621.5,405V421M623.5,387V408M625.5,365V394M627.5,362V373M629.5,365V373M635.5,373V392M639.5,381V387M645.5,378V398M653.5,429V442M657.5,420V434M659.5,423V439M663.5,410V448M669.5,445V468M671.5,440V452M677.5,454V465M679.5,451V462M683.5,454V472M685.5,450V466M687.5,439V452M689.5,429V449M693.5,418V439M695.5,409V431M699.5,404V420M703.5,407V418M707.5,401V420M711.5,399V411M715.5,408V416M717.5,397V419M721.5,397V410M723.5,386V403M729.5,385V401M733.5,391V409M739.5,393V406M743.5,386V417M745.5,364V408M747.5,365V375M749.5,358V371M755.5,364V380M759.5,363V372M761.5,361V371M763.5,345V365M771.5,356V369M777.5,352V372M779.5,329V358M781.5,322V341M785.5,331V338M787.5,332V341M789.5,325V336M791.5,318V339M795.5,308V323M797.5,301V312M803.5,282V316M807.5,291V304M817.5,314V321M819.5,312V317M821.5,301V313M833.5,327V337M839.5,343V360M841.5,350V365M845.5,350V358M849.5,339V358M853.5,344V364M859.5,340V352M861.5,327V349M875.5,358V390M881.5,356V364M883.5,351V361M885.5,343V362M887.5,331V367M893.5,357V367M897.5,344V368M903.5,353V365M905.5,350V355M913.5,390V402M915.5,388V403M919.5,386V398M921.5,376V391" fill="none" stroke="#ff0000" stroke-width="1"/>
<path d="M5,509V509H6V509H8V509H10V509H12V509H14V509H16V509H18V509H20V509H22V509H24V509H26V509H28V509H30V509H32V509H34V509H36V509H38V509H40V509H42V509H44V509H46V509H48V509H50V509H52V509H54V509H56V509H58V506H60V506H62V508H64V509H66V509H68V509H70V509H72V509H74V509H76V509H78V509H80V509H82V509H84V509H86V509H88V509H90V509H92V509H94V509H96V509H98V509H100V509H102V509H104V509H106V509H108V509H110V509H112V509H114V509H116V509H118V509H120V509H122V509H124V509H126V509H128V509H130V509H132V509H134V509H136V509H138V509H140V509H142V509H144V509H146V509H148V509H150V509H152V509H154V509H156V509H158V509H160V509H162V509H164V509H166V509H168V509H170V509H172V509H174V509H176V509H178V509H180V509H182V509H184V509H186V509H188V509H190V509H192V509H194V509H196V509H198V509H200V509H202V509H204V509H206V509H208V509H210V509H212V509H214V509H216V509H218V509H220V509H222V509H224V509H226V509H228V509H230V509H232V509H234V509H236V509H238V509H240V509H242V509H244V509H246V509H248V509H250V509H252V509H254V509H256V509H258V509H260V509H262V509H264V509H266V509H268V509H270V509H272V509H274V509H276V509H278V509H280V509H282V509H284V509H286V509H288V509H290V509H292V509H294V509H296V509H298V509H300V509H302V509H304V509H306V509H308V509H310V509H312V509H314V509H316V509H318V509H320V509H322V509H324V509H326V505H328V505H330V505H332V505H334V505H336V505H338V505H340V505H342V505H344V505H346V509H348V509H350V509H352V509H354V509H356V509H358V509H360V509H362V509H364V509H366V509H368V509H370V509H372V509H374V509H376V509H378V509H380V509H382V509H384V509H386V509H388V509H390V509H392V509H394V509H396V509H398V509H400V509H402V509H404V509H406V509H408V509H410V509H412V509H414V509H416V509H418V509H420V509H422V509H424V509H426V509H428V509H430V509H432V509H434V509H436V509H438V509H440V509H442V509H444V509H446V509H448V509H450V509H452V509H454V509H456V509H458V508H460V507H462V507H464V507H466V507H468V504H470V503H472V502H474V502H476V502H478V503H480V503H482V501H484V499H486V497H488V495H490V493H492V491H494V490H496V490H498V489H500V489H502V490H504V492H506V494H508V494H510V494H512V494H514V495H516V496H518V497H520V498H522V498H524V499H526V500H528V502H530V502H532V503H534V503H536V504H538V505H540V506H542V508H544V509H546V509H548V509H550V509H552V509H554V509H556V509H558V509H560V509H562V509H564V509H566V509H568V509H570V509H572V509H574V509H576V509H578V509H580V509H582V509H584V509H586V509H588V509H590V509H592V509H594V509H596V509H598V509H600V509H602V509H604V509H606V509H608V509H610V509H612V509H614V509H616V509H618V509H620V509H622V509H624V509H626V507H628V504H630V504H632V503H634V503H636V503H638V503H640V503H642V504H644V506H646V507H648V509H650V509H652V509H654V509H656V509H658V509H660V509H662V509H664V509H666V509H668V509H670V509H672V509H674V509H676V509H678V509H680V509H682V509H684V509H686V509H688V509H690V509H692V509H694V509H696V509H698V508H700V507H702V506H704V505H706V505H708V504H710V503H712V503H714V503H716V502H718V502H720V501H722V500H724V500H726V499H728V499H730V499H732V500H734V501H736V502H738V502H740V502H742V501H744V500H746V498H748V497H750V496H752V496H754V496H756V496H758V495H760V495H762V494H764V494H766V494H768V495H770V496H772V496H774V497H776V497H778V496H780V495H782V494H784V494H786V494H788V494H790V493H792V492H794V491H796V490H798V490H800V490H802V490H804V490H806V490H808V491H810V492H812V494H814V495H816V496H818V497H820V497H822V498H824V499H826V501H828V503H830V505H832V506H834V508H836V509H838V509H840V509H842V509H844V509H846V509H848V509H850V509H852V509H854V509H856V509H858V509H860V509H862V509H864V509H866V509H868V509H870V509H872V509H874V509H876V509H878V509H880V509H882V509H884V509H886V509H888V509H890V509H892V509H894V509H896V509H898V509H900V509H902V509H904V509H906V509H908V509H910V509H912V509H914V509H916V509H918V509H920V509H922V509H924V509H926V509H928V509H930V528H928V526H926V524H924V522H922V522H920V522H918V522H916V521H914V520H912V519H910V515H908V514H906V513H904V513H902V513H900V513H898V513H896V513H894V514H892V514H890V515H888V515H886V517H884V518H882V518H880V519H878V519H876V520H874V521H872V519H870V516H868V516H866V515H864V514H862V515H860V515H858V516H856V516H854V516H852V516H850V517H848V518H846V517H844V516H842V515H840V514H838V511H836V510H834V510H832V510H830V510H828V510H826V510H824V510H822V510H820V510H818V510H816V510H814V510H812V510H810V510H808V510H806V510H804V510H802V510H800V510H798V510H796V510H794V510H792V510H790V510H788V510H786V510H784V510H782V510H780V510H778V510H776V510H774V510H772V510H770V510H768V510H766V510H764V510H762V510H760V510H758V510H756V510H754V510H752V510H750V510H748V510H746V510H744V510H742V510H740V510H738V510H736V510H734V510H732V510H730V510H728V510H726V510H724V510H722V510H720V510H718V510H716V510H714V510H712V510H710V510H708V510H706V510H704V510H702V510H700V510H698V511H696V513H694V515H692V518H690V521H688V523H686V525H684V525H682V525H680V526H678V526H676V526H674V526H672V526H670V526H668V526H666V525H664V523H662V522H660V521H658V520H656V519H654V517H652V516H650V513H648V510H646V510H644V510H642V510H640V510H638V510H636V510H634V510H632V510H630V510H628V510H626V512H624V515H622V518H620V519H618V520H616V521H614V522H612V523H610V523H608V524H606V526H604V527H602V529H600V531H598V533H596V534H594V535H592V535H590V536H588V536H586V536H584V535H582V535H580V534H578V534H576V533H574V531H572V531H570V529H568V528H566V525H564V522H562V519H560V517H558V516H556V516H554V515H552V515H550V514H548V513H546V511H544V510H542V510H540V510H538V510H536V510H534V510H532V510H530V510H528V510H526V510H524V510H522V510H520V510H518V510H516V510H514V510H512V510H510V510H508V510H506V510H504V510H502V510H500V510H498V510H496V510H494V510H492V510H490V510H488V510H486V510H484V510H482V510H480V510H478V510H476V510H474V510H472V510H470V510H468V510H466V510H464V510H462V510H460V510H458V510H456V512H454V515H452V515H450V516H448V517H446V518H444V517H442V517H440V516H438V516H436V515H434V514H432V512H430V514H428V515H426V515H424V516H422V517H420V518H418V519H416V520H414V520H412V520H410V520H408V519H406V518H404V518H402V517H400V517H398V517H396V518H394V519H392V518H390V517H388V517H386V516H384V516H382V516H380V516H378V516H376V516H374V515H372V515H370V515H368V515H366V516H364V518H362V520H360V521H358V522H356V521H354V521H352V518H350V512H348V510H346V510H344V510H342V510H340V510H338V510H336V510H334V510H332V510H330V510H328V510H326V510H324V511H322V512H320V515H318V516H316V517H314V518H312V520H310V522H308V526H306V526H304V526H302V525H300V523H298V522H296V521H294V521H292V521H290V520H288V518H286V517H284V516H282V516H280V517H278V518H276V519H274V520H272V522H270V524H268V525H266V526H264V527H262V529H260V528H258V527H256V527H254V527H252V528H250V528H248V528H246V527H244V526H242V524H240V521H238V520H236V519H234V519H232V518H230V518H228V517H226V515H224V514H222V514H220V513H218V510H216V510H214V510H212V510H210V510H208V510H206V510H204V511H202V512H200V513H198V514H196V515H194V515H192V516H190V517H188V518H186V519H184V520H182V520H180V522H178V524H176V528H174V531H172V534H170V537H168V541H166V543H164V545H162V547H160V549H158V552H156V556H154V560H152V563H150V565H148V565H146V564H144V563H142V562H140V561H138V560H136V557H134V553H132V548H130V543H128V537H126V530H124V525H122V519H120V519H118V519H116V519H114V519H112V520H110V521H108V521H106V522H104V523H102V523H100V523H98V524H96V525H94V526H92V526H90V524H88V522H86V519H84V516H82V511H80V512H78V512H76V512H74V512H72V511H70V511H68V511H66V510H64V510H62V510H60V510H58V510H56V510H54V511H52V511H50V511H48V512H46V512H44V512H42V513H40V513H38V516H36V519H34V521H32V522H30V522H28V523H26V524H24V527H22V530H20V529H18V526H16V523H14V520H12V515H10V511H8V511H6V510H5Z" fill="#c0c0c0"/>
<path d="M19.5,516v2M128.5,522v2M130.5,525v2M131.5,527v2M132.5,529v2M133.5,531v2M134.5,533v2M135.5,535v3M136.5,538v2M137.5,540v2M138.5,542v2M139.5,544v2M140.5,546v2M141.5,548v2M142.5,550v2M143.5,552v2M146.5,556v2M172.5,544v2M174.5,541v2M175.5,539v2M177.5,536v2M179.5,533v2M181.5,530v2M185.5,525v2M810,490.5h4M502,491.5h10M806,491.5h4M814,491.5h2M501,492.5h1M512,492.5h3M801,492.5h5M816,492.5h2M500,493.5h1M515,493.5h2M796,493.5h5M818,493.5h2M499,494.5h1M517,494.5h3M792,494.5h4M820,494.5h2M498,495.5h1M520,495.5h2M790,495.5h2M822,495.5h2M497,496.5h1M522,496.5h4M764,496.5h26M824,496.5h3M496,497.5h1M526,497.5h3M760,497.5h4M827,497.5h2M495,498.5h1M529,498.5h2M758,498.5h2M829,498.5h2M493,499.5h2M531,499.5h2M755,499.5h3M831,499.5h2M492,500.5h1M533,500.5h3M753,500.5h2M833,500.5h1M489,501.5h3M536,501.5h3M727,501.5h26M834,501.5h2M485,502.5h4M539,502.5h2M723,502.5h4M836,502.5h1M483,503.5h2M541,503.5h2M721,503.5h2M837,503.5h1M479,504.5h4M543,504.5h2M643,504.5h6M717,504.5h4M838,504.5h1M342,505.5h5M475,505.5h4M545,505.5h2M640,505.5h3M649,505.5h2M714,505.5h3M839,505.5h1M5,506.5h2M338,506.5h4M347,506.5h3M473,506.5h2M547,506.5h2M638,506.5h2M651,506.5h2M712,506.5h2M840,506.5h1M7,507.5h2M336,507.5h2M350,507.5h1M471,507.5h2M549,507.5h2M637,507.5h1M653,507.5h1M710,507.5h2M841,507.5h1M9,508.5h2M334,508.5h2M351,508.5h2M469,508.5h2M551,508.5h2M636,508.5h1M654,508.5h1M709,508.5h1M842,508.5h1M11,509.5h1M58,509.5h22M332,509.5h2M353,509.5h1M467,509.5h2M553,509.5h1M635,509.5h1M655,509.5h1M708,509.5h1M843,509.5h2M12,510.5h1M55,510.5h3M80,510.5h3M213,510.5h6M330,510.5h2M354,510.5h1M465,510.5h2M554,510.5h2M634,510.5h1M656,510.5h1M706,510.5h2M845,510.5h1M13,511.5h2M51,511.5h4M83,511.5h2M207,511.5h6M219,511.5h4M329,511.5h1M355,511.5h1M463,511.5h2M556,511.5h1M633,511.5h1M657,511.5h1M705,511.5h1M846,511.5h1M15,512.5h1M48,512.5h3M85,512.5h2M204,512.5h3M223,512.5h3M328,512.5h1M356,512.5h1M461,512.5h2M557,512.5h2M632,512.5h1M658,512.5h1M704,512.5h1M847,512.5h2M904,512.5h8M16,513.5h1M47,513.5h1M87,513.5h1M202,513.5h2M226,513.5h3M326,513.5h2M357,513.5h1M459,513.5h2M559,513.5h2M631,513.5h1M659,513.5h2M703,513.5h1M849,513.5h2M900,513.5h4M912,513.5h3M17,514.5h1M45,514.5h2M88,514.5h2M200,514.5h2M229,514.5h3M325,514.5h1M358,514.5h2M380,514.5h5M435,514.5h8M457,514.5h2M561,514.5h2M630,514.5h1M661,514.5h1M702,514.5h1M851,514.5h2M895,514.5h5M915,514.5h2M18,515.5h1M44,515.5h1M90,515.5h1M198,515.5h2M232,515.5h3M324,515.5h1M360,515.5h1M375,515.5h5M385,515.5h5M433,515.5h2M443,515.5h6M454,515.5h3M563,515.5h1M629,515.5h1M662,515.5h1M701,515.5h1M853,515.5h2M859,515.5h16M892,515.5h3M917,515.5h2M43,516.5h1M91,516.5h2M196,516.5h2M235,516.5h3M323,516.5h1M361,516.5h2M372,516.5h3M390,516.5h17M431,516.5h2M449,516.5h5M564,516.5h2M628,516.5h1M663,516.5h1M700,516.5h1M855,516.5h4M875,516.5h2M890,516.5h2M919,516.5h2M42,517.5h1M93,517.5h1M194,517.5h2M238,517.5h2M285,517.5h9M321,517.5h2M363,517.5h2M370,517.5h2M407,517.5h5M428,517.5h3M566,517.5h1M627,517.5h1M664,517.5h2M699,517.5h1M877,517.5h13M921,517.5h2M20,518.5h1M41,518.5h1M94,518.5h1M193,518.5h1M240,518.5h2M283,518.5h2M294,518.5h8M320,518.5h1M365,518.5h5M412,518.5h16M567,518.5h1M625,518.5h2M666,518.5h1M698,518.5h1M923,518.5h1M21,519.5h1M40,519.5h1M95,519.5h2M119,519.5h5M192,519.5h1M242,519.5h2M281,519.5h2M302,519.5h1M319,519.5h1M568,519.5h1M623,519.5h2M667,519.5h1M697,519.5h1M924,519.5h1M22,520.5h1M39,520.5h1M97,520.5h1M115,520.5h4M124,520.5h3M190,520.5h2M244,520.5h2M280,520.5h1M303,520.5h2M317,520.5h2M569,520.5h2M621,520.5h2M668,520.5h2M696,520.5h1M925,520.5h1M23,521.5h2M38,521.5h1M98,521.5h2M111,521.5h4M127,521.5h1M189,521.5h1M246,521.5h2M279,521.5h1M305,521.5h1M315,521.5h2M571,521.5h1M619,521.5h2M670,521.5h2M694,521.5h2M926,521.5h2M25,522.5h1M36,522.5h2M100,522.5h2M109,522.5h2M188,522.5h1M248,522.5h2M277,522.5h2M306,522.5h2M312,522.5h3M572,522.5h1M617,522.5h2M672,522.5h2M693,522.5h1M928,522.5h1M26,523.5h2M34,523.5h2M102,523.5h7M187,523.5h1M250,523.5h2M276,523.5h1M308,523.5h4M573,523.5h1M616,523.5h1M674,523.5h2M690,523.5h3M28,524.5h6M129,524.5h1M186,524.5h1M252,524.5h2M274,524.5h2M574,524.5h2M614,524.5h2M676,524.5h4M685,524.5h5M254,525.5h2M271,525.5h3M576,525.5h1M613,525.5h1M680,525.5h5M256,526.5h15M577,526.5h1M612,526.5h1M184,527.5h1M578,527.5h1M610,527.5h2M183,528.5h1M579,528.5h1M608,528.5h2M182,529.5h1M580,529.5h1M607,529.5h1M581,530.5h1M606,530.5h1M582,531.5h1M605,531.5h1M180,532.5h1M583,532.5h2M603,532.5h2M585,533.5h2M599,533.5h4M587,534.5h12M178,535.5h1M176,538.5h1M173,543.5h1M171,546.5h1M170,547.5h1M169,548.5h1M168,549.5h1M167,550.5h1M166,551.5h1M165,552.5h1M164,553.5h1M144,554.5h1M163,554.5h1M145,555.5h1M162,555.5h1M161,556.5h1M160,557.5h1M147,558.5h1M159,558.5h1M148,559.5h1M157,559.5h2M149,560.5h2M155,560.5h2M151,561.5h4" fill="none" stroke="#ff0000" stroke-width="1"/>
<path d="M6,597.5H1167M6,631.5H1167" fill="none" stroke="#c0c0c0" stroke-width="1" stroke-dasharray="3 3"/>
<path d="M9.5,620v2M10.5,622v5M11.5,627v4M12.5,631v2M14.5,631v2M20.5,631v2M21.5,625v6M22.5,617v8M23.5,614v3M33.5,616v2M34.5,614v2M35.5,612v2M36.5,610v2M55.5,613v2M56.5,611v2M57.5,608v3M58.5,606v2M59.5,604v3M60.5,607v4M61.5,611v3M63.5,615v2M69.5,616v2M70.5,614v2M72.5,614v2M75.5,615v2M76.5,613v2M77.5,611v2M79.5,611v3M80.5,614v4M81.5,618v4M82.5,622v4M83.5,626v2M84.5,628v2M90.5,628v2M91.5,626v2M92.5,624v2M93.5,622v2M102.5,621v2M103.5,619v2M110.5,619v2M121.5,620v6M122.5,626v10M123.5,636v5M128.5,641v2M136.5,644v2M137.5,642v2M140.5,640v2M141.5,638v2M142.5,639v2M143.5,641v2M149.5,640v2M150.5,637v3M151.5,634v3M152.5,632v2M153.5,630v2M154.5,628v2M158.5,625v2M162.5,627v2M165.5,629v2M166.5,626v3M167.5,624v2M169.5,621v2M170.5,617v4M171.5,614v3M172.5,615v2M173.5,617v2M176.5,615v2M177.5,612v3M178.5,610v2M179.5,608v2M180.5,609v2M181.5,611v3M182.5,614v3M183.5,617v2M187.5,616v2M188.5,614v2M189.5,612v2M191.5,612v2M192.5,614v2M193.5,616v2M201.5,611v2M202.5,608v3M203.5,606v2M204.5,608v4M205.5,612v2M206.5,614v2M214.5,615v2M216.5,615v2M218.5,615v2M224.5,619v2M226.5,622v2M228.5,622v2M229.5,620v2M234.5,620v2M238.5,623v2M239.5,625v2M240.5,627v2M241.5,629v2M242.5,628v2M247.5,629v2M248.5,627v2M249.5,624v3M250.5,621v3M251.5,619v2M252.5,620v2M253.5,622v2M260.5,627v2M261.5,628v2M262.5,624v4M263.5,622v2M265.5,619v2M266.5,617v2M267.5,615v2M268.5,616v2M269.5,618v2M270.5,617v2M272.5,614v2M274.5,614v2M282.5,613v2M283.5,611v3M284.5,614v4M285.5,618v3M288.5,622v2M289.5,624v2M297.5,622v2M298.5,624v2M299.5,626v2M305.5,629v2M306.5,625v4M307.5,621v4M308.5,617v4M309.5,613v4M310.5,611v2M311.5,609v2M312.5,611v2M313.5,613v2M319.5,614v2M320.5,612v2M321.5,610v2M331.5,609v2M332.5,611v2M333.5,613v3M334.5,611v3M335.5,609v2M336.5,610v2M342.5,611v2M343.5,613v2M344.5,615v2M345.5,617v2M348.5,621v2M349.5,623v2M350.5,625v4M351.5,629v2M352.5,628v2M357.5,622v2M358.5,618v4M359.5,616v2M366.5,613v2M367.5,611v2M369.5,611v2M370.5,613v3M371.5,616v2M372.5,618v2M380.5,616v2M381.5,615v2M382.5,617v2M383.5,619v2M384.5,618v2M391.5,620v2M392.5,622v2M393.5,623v3M394.5,619v4M395.5,616v3M402.5,619v2M403.5,621v2M404.5,619v2M405.5,617v2M406.5,619v4M407.5,623v2M410.5,620v2M418.5,619v2M419.5,617v2M420.5,615v2M421.5,613v2M429.5,613v2M430.5,610v3M431.5,608v4M432.5,612v6M433.5,618v4M446.5,620v2M447.5,618v2M451.5,617v2M452.5,613v4M453.5,610v3M454.5,608v2M455.5,606v2M463.5,610v2M464.5,612v4M465.5,615v3M466.5,609v6M467.5,606v3M468.5,604v2M470.5,604v2M477.5,608v3M478.5,611v5M479.5,616v3M480.5,613v4M481.5,609v4M482.5,605v4M483.5,603v2M488.5,599v2M489.5,597v2M500.5,598v2M501.5,597v2M502.5,599v4M503.5,603v3M504.5,606v2M506.5,609v2M508.5,609v2M509.5,607v2M514.5,604v2M515.5,606v2M525.5,606v2M526.5,608v3M527.5,611v2M528.5,613v2M536.5,612v2M537.5,613v3M538.5,609v4M539.5,606v4M540.5,610v6M541.5,616v4M556.5,621v2M560.5,624v2M561.5,626v3M562.5,629v4M563.5,633v2M578.5,636v2M582.5,636v2M588.5,637v2M597.5,634v4M598.5,628v6M599.5,624v4M602.5,621v2M609.5,620v2M610.5,622v2M611.5,624v2M612.5,623v2M616.5,620v2M619.5,619v2M620.5,617v2M621.5,614v3M622.5,611v3M623.5,607v4M624.5,602v5M625.5,598v4M629.5,598v2M630.5,600v3M631.5,603v2M634.5,604v2M635.5,603v2M636.5,605v4M637.5,609v2M645.5,612v4M646.5,616v6M647.5,622v3M648.5,625v4M649.5,629v2M660.5,628v2M662.5,628v2M663.5,626v2M664.5,628v3M665.5,631v2M667.5,632v3M668.5,627v5M669.5,624v3M674.5,625v2M675.5,627v2M678.5,625v2M680.5,625v2M683.5,624v2M684.5,622v2M685.5,620v2M686.5,618v2M687.5,616v2M688.5,613v3M689.5,611v2M691.5,612v2M692.5,610v2M693.5,608v2M694.5,606v2M696.5,606v2M698.5,606v2M704.5,608v2M705.5,610v2M706.5,608v2M707.5,606v2M710.5,605v2M711.5,604v2M712.5,606v4M713.5,610v2M720.5,607v2M721.5,605v2M722.5,603v2M724.5,603v2M729.5,604v2M730.5,606v3M731.5,609v2M738.5,610v2M743.5,607v2M744.5,603v4M745.5,601v2M748.5,598v2M750.5,598v2M761.5,600v2M762.5,597v3M763.5,595v2M767.5,599v3M768.5,602v4M769.5,606v3M775.5,609v2M776.5,606v3M777.5,603v3M778.5,600v3M779.5,598v2M781.5,597v2M782.5,599v2M783.5,601v2M794.5,595v2M799.5,594v2M800.5,596v2M801.5,598v2M802.5,597v2M803.5,595v2M804.5,596v2M807.5,596v2M808.5,598v4M809.5,602v2M820.5,604v2M821.5,602v2M822.5,604v2M823.5,606v2M824.5,608v2M825.5,610v2M826.5,612v2M827.5,614v2M829.5,617v2M832.5,618v2M834.5,618v2M835.5,620v2M836.5,622v3M837.5,625v2M846.5,624v2M847.5,624v3M848.5,620v4M849.5,617v3M850.5,619v2M851.5,621v2M852.5,619v2M853.5,617v2M860.5,615v2M863.5,614v2M864.5,616v2M865.5,618v2M869.5,623v2M870.5,625v3M871.5,628v3M873.5,629v4M874.5,622v7M875.5,618v4M885.5,615v2M886.5,613v2M887.5,611v2M889.5,613v2M890.5,615v3M891.5,618v2M895.5,618v2M896.5,614v4M897.5,611v3M898.5,612v2M906.5,615v2M907.5,617v4M908.5,621v4M909.5,625v3M910.5,628v2M917.5,627v2M918.5,624v3M919.5,622v2M920.5,620v2M921.5,619v3M922.5,622v4M923.5,626v3M797,593.5h2M795,594.5h2M494,596.5h2M764,596.5h1M490,597.5h4M496,597.5h1M749,597.5h1M765,597.5h1M780,597.5h1M791,597.5h3M806,597.5h1M497,598.5h1M626,598.5h3M766,598.5h1M790,598.5h1M805,598.5h1M498,599.5h1M788,599.5h2M499,600.5h1M746,600.5h2M751,600.5h1M786,600.5h2M487,601.5h1M752,601.5h1M754,601.5h2M760,601.5h1M784,601.5h2M486,602.5h1M723,602.5h1M753,602.5h1M756,602.5h1M758,602.5h2M469,603.5h1M484,603.5h2M513,603.5h1M757,603.5h1M512,604.5h1M728,604.5h1M810,604.5h1M511,605.5h1M632,605.5h1M695,605.5h1M699,605.5h1M725,605.5h3M811,605.5h1M328,606.5h1M456,606.5h2M471,606.5h4M510,606.5h1M633,606.5h1M700,606.5h1M771,606.5h1M812,606.5h1M819,606.5h1M326,607.5h2M329,607.5h1M458,607.5h2M475,607.5h2M523,607.5h2M701,607.5h3M708,607.5h2M770,607.5h1M772,607.5h1M813,607.5h1M818,607.5h1M323,608.5h3M330,608.5h1M460,608.5h1M505,608.5h1M516,608.5h1M522,608.5h1M697,608.5h1M717,608.5h1M733,608.5h1M773,608.5h1M814,608.5h1M816,608.5h2M37,609.5h2M322,609.5h1M461,609.5h2M517,609.5h2M520,609.5h2M638,609.5h1M716,609.5h1M718,609.5h2M732,609.5h1M734,609.5h1M739,609.5h1M742,609.5h1M774,609.5h1M815,609.5h1M39,610.5h2M341,610.5h1M519,610.5h1M639,610.5h2M714,610.5h2M735,610.5h1M740,610.5h2M41,611.5h1M78,611.5h1M340,611.5h1M368,611.5h1M507,611.5h1M533,611.5h3M641,611.5h1M736,611.5h1M42,612.5h1M190,612.5h1M315,612.5h1M337,612.5h3M532,612.5h1M642,612.5h3M690,612.5h1M737,612.5h1M888,612.5h1M43,613.5h1M47,613.5h1M53,613.5h1M71,613.5h1M197,613.5h1M200,613.5h1M273,613.5h1M314,613.5h1M316,613.5h1M363,613.5h1M422,613.5h3M531,613.5h1M44,614.5h1M46,614.5h1M48,614.5h2M52,614.5h1M54,614.5h1M62,614.5h1M196,614.5h1M198,614.5h2M213,614.5h1M217,614.5h1M317,614.5h1M362,614.5h1M364,614.5h1M425,614.5h2M428,614.5h1M530,614.5h1M861,614.5h2M899,614.5h1M903,614.5h3M24,615.5h1M45,615.5h1M50,615.5h2M195,615.5h1M212,615.5h1M276,615.5h6M318,615.5h1M360,615.5h2M365,615.5h1M427,615.5h1M529,615.5h1M900,615.5h1M902,615.5h1M5,616.5h1M25,616.5h2M73,616.5h2M194,616.5h1M207,616.5h1M211,616.5h1M271,616.5h1M275,616.5h1M396,616.5h2M828,616.5h1M883,616.5h2M901,616.5h1M6,617.5h1M27,617.5h3M64,617.5h2M116,617.5h1M174,617.5h2M184,617.5h3M208,617.5h1M210,617.5h1M215,617.5h1M219,617.5h1M385,617.5h3M398,617.5h1M833,617.5h1M859,617.5h1M882,617.5h1M7,618.5h1M30,618.5h1M32,618.5h1M66,618.5h3M111,618.5h1M115,618.5h1M117,618.5h1M209,618.5h1M220,618.5h1M222,618.5h2M375,618.5h1M379,618.5h1M388,618.5h2M399,618.5h3M448,618.5h3M854,618.5h2M858,618.5h1M876,618.5h6M892,618.5h2M8,619.5h1M31,619.5h1M107,619.5h1M112,619.5h1M114,619.5h1M118,619.5h2M221,619.5h1M233,619.5h1M346,619.5h1M374,619.5h1M376,619.5h1M378,619.5h1M390,619.5h1M411,619.5h1M436,619.5h1M551,619.5h4M617,619.5h1M830,619.5h1M856,619.5h2M894,619.5h1M104,620.5h1M106,620.5h1M108,620.5h1M113,620.5h1M120,620.5h1M232,620.5h1M347,620.5h1M373,620.5h1M377,620.5h1M412,620.5h1M434,620.5h2M437,620.5h2M440,620.5h2M542,620.5h7M550,620.5h1M555,620.5h1M603,620.5h1M606,620.5h3M618,620.5h1M831,620.5h1M866,620.5h1M95,621.5h3M105,621.5h1M109,621.5h1M225,621.5h1M230,621.5h2M264,621.5h1M286,621.5h2M295,621.5h2M413,621.5h1M417,621.5h1M439,621.5h1M442,621.5h2M549,621.5h1M604,621.5h2M867,621.5h1M94,622.5h1M98,622.5h2M235,622.5h3M293,622.5h2M409,622.5h1M414,622.5h1M416,622.5h1M444,622.5h2M613,622.5h3M868,622.5h1M100,623.5h2M168,623.5h1M292,623.5h1M408,623.5h1M415,623.5h1M557,623.5h3M600,623.5h2M670,623.5h2M845,623.5h1M159,624.5h1M227,624.5h1M254,624.5h1M290,624.5h2M356,624.5h1M672,624.5h2M679,624.5h1M844,624.5h1M160,625.5h1M255,625.5h4M355,625.5h1M838,625.5h6M161,626.5h1M259,626.5h1M354,626.5h1M682,626.5h1M915,626.5h1M155,627.5h3M243,627.5h1M300,627.5h3M353,627.5h1M658,627.5h2M676,627.5h2M681,627.5h1M914,627.5h1M916,627.5h1M244,628.5h2M303,628.5h1M653,628.5h5M913,628.5h1M86,629.5h2M163,629.5h1M246,629.5h1M304,629.5h1M652,629.5h1M912,629.5h1M924,629.5h1M15,630.5h1M85,630.5h1M88,630.5h2M164,630.5h1M650,630.5h2M661,630.5h1M911,630.5h1M925,630.5h3M16,631.5h2M872,631.5h1M928,631.5h1M18,632.5h1M13,633.5h1M19,633.5h1M666,633.5h1M564,635.5h1M567,635.5h5M577,635.5h1M583,635.5h1M593,635.5h1M565,636.5h2M572,636.5h2M576,636.5h1M584,636.5h1M589,636.5h1M592,636.5h1M594,636.5h2M574,637.5h2M585,637.5h1M590,637.5h2M596,637.5h1M579,638.5h3M586,638.5h1M125,639.5h2M587,639.5h1M124,640.5h1M127,640.5h1M146,640.5h2M138,641.5h1M144,641.5h2M148,641.5h1M139,642.5h1M129,643.5h2M131,644.5h3M134,645.5h1M135,646.5h1" fill="none" stroke="#1e90ff" stroke-width="1"/>
</svg>
<div class="tk" style="top:50px"></div><div class="tk" style="top:83px"></div><div class="tk" style="top:116px"></div><div class="tk" style="top:149px"></div><div class="tk" style="top:182px"></div><div class="tk" style="top:215px"></div><div class="tk" style="top:248px"></div><div class="tk" style="top:281px"></div><div class="tk" style="top:314px"></div><div class="tk" style="top:347px"></div><div class="tk" style="top:380px"></div><div class="tk" style="top:413px"></div><div class="tk" style="top:446px"></div><div class="tk" style="top:479px"></div><div class="tk" style="top:509px"></div>
<div class="pl" style="top:128px;background:#ff0000"></div><div class="pl" style="top:205px;background:#ff0000"></div><div class="pl" style="top:283px;background:#ff0000"></div><div class="pl" style="top:358px;background:#00ff00"></div><div class="pl" style="top:436px;background:#0000ff"></div><div class="pl" style="top:422px;background:#000"></div>
<div class="xt" style="left:5px"></div><div class="xt" style="left:69px"></div><div class="xt" style="left:133px"></div><div class="xt" style="left:197px"></div><div class="xt" style="left:261px"></div><div class="xt" style="left:325px"></div><div class="xt" style="left:389px"></div><div class="xt" style="left:453px"></div><div class="xt" style="left:517px"></div><div class="xt" style="left:581px"></div><div class="xt" style="left:645px"></div><div class="xt" style="left:709px"></div><div class="xt" style="left:773px"></div><div class="xt" style="left:837px"></div><div class="xt" style="left:901px"></div>
<svg width="1209" height="706" viewBox="0 0 1209 706" shape-rendering="crispEdges"><path d="M11,29h1v1h1v1h1v1h1v1h-7v-1h1v-1h1v-1h1z" fill="#000"/></svg>
<div class="abs" style="left:6px;top:40px;width:223px;height:61px;background:#fff"></div>
<div class="abs" style="left:8px;top:42px;width:219px;height:57px;font-family:'Liberation Sans',sans-serif">
<div class="abs pb" style="left:0;top:24px;width:109px;height:33px"></div>
<div class="abs pb" style="left:111px;top:24px;width:108px;height:33px"></div>
<div class="abs sb" style="left:0;top:0;width:52px;height:25px"></div>
<div class="abs sb" style="left:167px;top:0;width:52px;height:25px"></div>
<div class="abs" style="left:4px;top:23px;width:44px;height:1px;background:#000082"></div>
<div class="abs" style="left:4px;top:24px;width:44px;height:1px;background:#7c7cff"></div>
<div class="abs" style="left:171px;top:23px;width:44px;height:1px;background:#000082"></div>
<div class="abs" style="left:171px;top:24px;width:44px;height:1px;background:#7c7cff"></div>
<div class="abs" style="left:54px;top:0;width:111px;height:22px;background:#fff;border:1px solid #b2b2b6"></div>
<div class="abs vb" style="left:56px;top:2px;width:18px;height:18px"></div>
<div class="abs" style="left:75px;top:1px;width:1px;height:20px;background:#b2b2b6"></div>
<div class="abs" style="left:143px;top:1px;width:1px;height:20px;background:#b2b2b6"></div>
<div class="abs vb" style="left:145px;top:2px;width:18px;height:18px"></div>
<div class="abs" style="left:62px;top:9px;width:5px;height:1px;background:#5a70d2"></div>
<div class="abs" style="left:63px;top:10px;width:3px;height:1px;background:#4758b4"></div>
<div class="abs" style="left:64px;top:11px;width:1px;height:1px;background:#3a4280"></div>
<div class="abs" style="left:153px;top:9px;width:1px;height:1px;background:#3a4280"></div>
<div class="abs" style="left:152px;top:10px;width:3px;height:1px;background:#4758b4"></div>
<div class="abs" style="left:151px;top:11px;width:5px;height:1px;background:#5a70d2"></div>
<div class="abs" style="left:76px;top:3px;width:65px;height:16px;line-height:16px;font-size:13px;text-align:right;letter-spacing:-0.1px">3.00</div>
<div class="abs" style="left:12px;top:5px;height:14px;line-height:14px;font-size:12px;color:#fff;letter-spacing:-0.9px;white-space:pre">SELL</div>
<div class="abs" style="left:180.5px;top:5px;height:14px;line-height:14px;font-size:12px;color:#fff;letter-spacing:-0.4px;white-space:pre">BUY</div>
<div class="abs" style="left:20px;top:41px;height:14px;line-height:14px;font-size:13px;font-weight:bold;color:#fff;letter-spacing:-0.3px;white-space:pre">1.17</div>
<div class="abs" style="left:47px;top:21px;height:38px;line-height:38px;font-size:35px;color:#fff;letter-spacing:-1.5px;-webkit-text-stroke:0.7px #1a1ac2;white-space:pre">19</div>
<div class="abs" style="left:87.5px;top:25px;height:14px;line-height:14px;font-size:13px;font-weight:bold;color:#fff;white-space:pre">8</div>
<div class="abs" style="left:130px;top:41px;height:14px;line-height:14px;font-size:13px;font-weight:bold;color:#fff;letter-spacing:-0.3px;white-space:pre">1.17</div>
<div class="abs" style="left:158px;top:21px;height:38px;line-height:38px;font-size:35px;color:#fff;letter-spacing:-2px;-webkit-text-stroke:0.7px #1a1ac2;white-space:pre">20</div>
<div class="abs" style="left:198px;top:25px;height:14px;line-height:14px;font-size:13px;font-weight:bold;color:#fff;white-space:pre">7</div>
</div>
<div class="abs" style="left:0;top:678px;width:1209px;height:1px;background:#e3e3e3"></div>
<div class="abs" style="left:0;top:679px;width:1209px;height:27px;background:#f0f0f0"></div>
<div class="abs" style="left:0;top:680px;width:1209px;height:1px;background:#000"></div>
<div class="abs" style="left:0;top:680px;width:1px;height:19px;background:#a0a0a0"></div>
<div class="abs" style="left:1px;top:680px;width:1px;height:19px;background:#696969"></div>
<div class="abs" style="left:6px;top:679px;width:92px;height:20px;background:#fff;border:1px solid #000;border-top:0"></div>
<div class="abs" style="left:0;top:700px;width:1209px;height:1px;background:#fbfbfb"></div>
<div class="abs" style="left:0;top:704px;width:1209px;height:1px;background:#a0a0a0"></div>
<div class="abs" style="left:0;top:705px;width:1209px;height:1px;background:#fff"></div>
<div class="sep" style="left:202px"></div><div class="sep" style="left:290px"></div><div class="sep" style="left:394px"></div><div class="sep" style="left:498px"></div><div class="sep" style="left:574px"></div><div class="sep" style="left:642px"></div><div class="sep" style="left:718px"></div><div class="sep" style="left:810px"></div><div class="sep" style="left:902px"></div>
<svg width="1209" height="706" viewBox="0 0 1209 706" shape-rendering="crispEdges"><path d="M1186,686v6h-1v-1h-1v-1h-1v-2h1v-1h1v-1zM1202,686v6h1v-1h1v-1h1v-2h-1v-1h-1v-1z" fill="#a0a0a0"/></svg>
<div class="l10" style="left:15.6px;top:2px;letter-spacing:-0.05px;color:#3c3c3c">M30</div>
<div class="l10" style="left:47px;top:2px;letter-spacing:0.4px;color:#3c3c3c">H1</div>
<div class="l10" style="left:74.2px;top:2px;letter-spacing:0.5px;color:#3c3c3c">H4</div>
<div class="l10" style="left:103px;top:2px;letter-spacing:0.5px;color:#3c3c3c">D1</div>
<div class="l10" style="left:131.3px;top:2px;letter-spacing:0.3px;color:#3c3c3c">W1</div>
<div class="l10" style="left:157.6px;top:2px;letter-spacing:0.5px;color:#3c3c3c">MN</div>
<div class="abs" style="left:0;top:0"><span class="d10" style="left:19.7px;top:26px;letter-spacing:0.16px">EURUSD,H4  </span><span class="d9" style="left:80px;top:26px">1.17268 </span><span class="d9" style="left:116px;top:26px">1.17289 </span><span class="d9" style="left:152px;top:26px">1.17192 </span><span class="d9" style="left:188px;top:26px">1.17195</span></div>
<div class="abs" style="left:0;top:0"><span class="d10" style="left:9.6px;top:489px;letter-spacing:0.5px">MACD</span><span class="d9" style="left:37.9px;top:489px;letter-spacing:-0.12px">(12,26,9) </span><span class="d9" style="left:78.5px;top:489px;letter-spacing:-0.11px">-0.002135 </span><span class="d9" style="left:122px;top:489px">-0.001536</span></div>
<div class="abs" style="left:0;top:0"><span class="d10" style="left:8.5px;top:575px;letter-spacing:0.15px">RSI</span><span class="d9" style="left:24.6px;top:575px;letter-spacing:0.2px">(14) </span><span class="d9" style="left:44px;top:575px">28.9396</span></div>
<div class="d9" style="left:1172.7px;top:46px;letter-spacing:-0.08px">1.22100</div>
<div class="d9" style="left:1172.7px;top:79px;letter-spacing:-0.08px">1.21670</div>
<div class="d9" style="left:1172.7px;top:112px;letter-spacing:-0.08px">1.21240</div>
<div class="d9" style="left:1172.7px;top:145px;letter-spacing:-0.08px">1.20820</div>
<div class="d9" style="left:1172.7px;top:178px;letter-spacing:-0.08px">1.20390</div>
<div class="d9" style="left:1172.7px;top:211px;letter-spacing:-0.08px">1.19960</div>
<div class="d9" style="left:1172.7px;top:244px;letter-spacing:-0.08px">1.19530</div>
<div class="d9" style="left:1172.7px;top:277px;letter-spacing:-0.08px">1.19100</div>
<div class="d9" style="left:1172.7px;top:310px;letter-spacing:-0.08px">1.18670</div>
<div class="d9" style="left:1172.7px;top:343px;letter-spacing:-0.08px">1.18240</div>
<div class="d9" style="left:1172.7px;top:376px;letter-spacing:-0.08px">1.17810</div>
<div class="d9" style="left:1172.7px;top:409px;letter-spacing:-0.08px">1.17380</div>
<div class="d9" style="left:1172.7px;top:442px;letter-spacing:-0.08px">1.16950</div>
<div class="d9" style="left:1172.7px;top:475px;letter-spacing:-0.08px">1.16520</div>
<div class="d9" style="left:1172.7px;top:129px;letter-spacing:-0.08px;color:#fff">1.21010</div>
<div class="d9" style="left:1172.7px;top:206px;letter-spacing:-0.08px;color:#fff">1.20004</div>
<div class="d9" style="left:1172.7px;top:284px;letter-spacing:-0.08px;color:#fff">1.18998</div>
<div class="d9" style="left:1172.7px;top:359px;letter-spacing:-0.08px;color:#fff">1.18024</div>
<div class="d9" style="left:1172.7px;top:437px;letter-spacing:-0.08px;color:#fff">1.17002</div>
<div class="d9" style="left:1172.7px;top:423px;letter-spacing:-0.08px;color:#fff">1.17195</div>
<div class="d9" style="left:1171.2px;top:487px;letter-spacing:-0.1px">0.002947</div>
<div class="d9" style="left:1171.2px;top:505px;letter-spacing:0.23px">0.00</div>
<div class="d9" style="left:1171.2px;top:557px;letter-spacing:0.04px">-0.007151</div>
<div class="d9" style="left:1170.1px;top:573px;letter-spacing:0.35px">100</div>
<div class="d9" style="left:1170.1px;top:593px;letter-spacing:-0.1px">70</div>
<div class="d9" style="left:1170.1px;top:627px;letter-spacing:-0.1px">30</div>
<div class="d9" style="left:1171.2px;top:646px">0</div>
<div class="d9" style="left:3.1px;top:662px;letter-spacing:0.24px">3 Jun 2021</div>
<div class="d9" style="left:67.6px;top:662px;letter-spacing:0.2px">10 Jun 14:00</div>
<div class="d9" style="left:131.8px;top:662px;letter-spacing:0.15px">17 Jun 22:00</div>
<div class="d9" style="left:195.2px;top:662px;letter-spacing:0.25px">25 Jun 04:00</div>
<div class="d9" style="left:259.2px;top:662px;letter-spacing:0.24px">2 Jul 14:00</div>
<div class="d9" style="left:324.5px;top:662px;letter-spacing:0.12px">9 Jul 22:00</div>
<div class="d9" style="left:388px;top:662px;letter-spacing:0.15px">19 Jul 07:00</div>
<div class="d9" style="left:451.5px;top:662px;letter-spacing:0.21px">26 Jul 15:00</div>
<div class="d9" style="left:515.5px;top:662px;letter-spacing:0.23px">2 Aug 23:00</div>
<div class="d9" style="left:580px;top:662px;letter-spacing:0.16px">10 Aug 04:00</div>
<div class="d9" style="left:643.5px;top:662px;letter-spacing:0.19px">17 Aug 14:00</div>
<div class="d9" style="left:707.3px;top:662px;letter-spacing:0.19px">24 Aug 22:00</div>
<div class="d9" style="left:771.7px;top:662px;letter-spacing:0.23px">1 Sep 04:00</div>
<div class="d9" style="left:835px;top:662px;letter-spacing:0.26px">8 Sep 14:00</div>
<div class="d9" style="left:899.5px;top:662px;letter-spacing:0.12px">15 Sep 22:00</div>
<div class="l12" style="left:17.5px;top:684px;letter-spacing:-0.06px">EURUSD,H4</div>
<div class="l12" style="left:108.8px;top:684px;letter-spacing:0.13px;color:#666">AUDUSD,Daily</div>
<div class="l12" style="left:211px;top:684px;letter-spacing:0.06px;color:#666">USDCHF,H4</div>
<div class="l12" style="left:300.2px;top:684px;letter-spacing:0.06px;color:#666">USDCAD,Daily</div>
<div class="l12" style="left:403.4px;top:684px;letter-spacing:0.24px;color:#666">USDCNH,Daily</div>
<div class="l12" style="left:509.3px;top:684px;letter-spacing:0.44px;color:#666">UKOil,H1</div>
<div class="l12" style="left:583.4px;top:684px;letter-spacing:0.17px;color:#666">DJ30,H1</div>
<div class="l12" style="left:653.3px;top:684px;letter-spacing:0.27px;color:#666">USDX,H1</div>
<div class="l12" style="left:728.2px;top:684px;letter-spacing:0.22px;color:#666">XAUUSD,H4</div>
<div class="l12" style="left:821.3px;top:684px;letter-spacing:-0.06px;color:#666">GBPUSD,H1</div>
</body></html>
